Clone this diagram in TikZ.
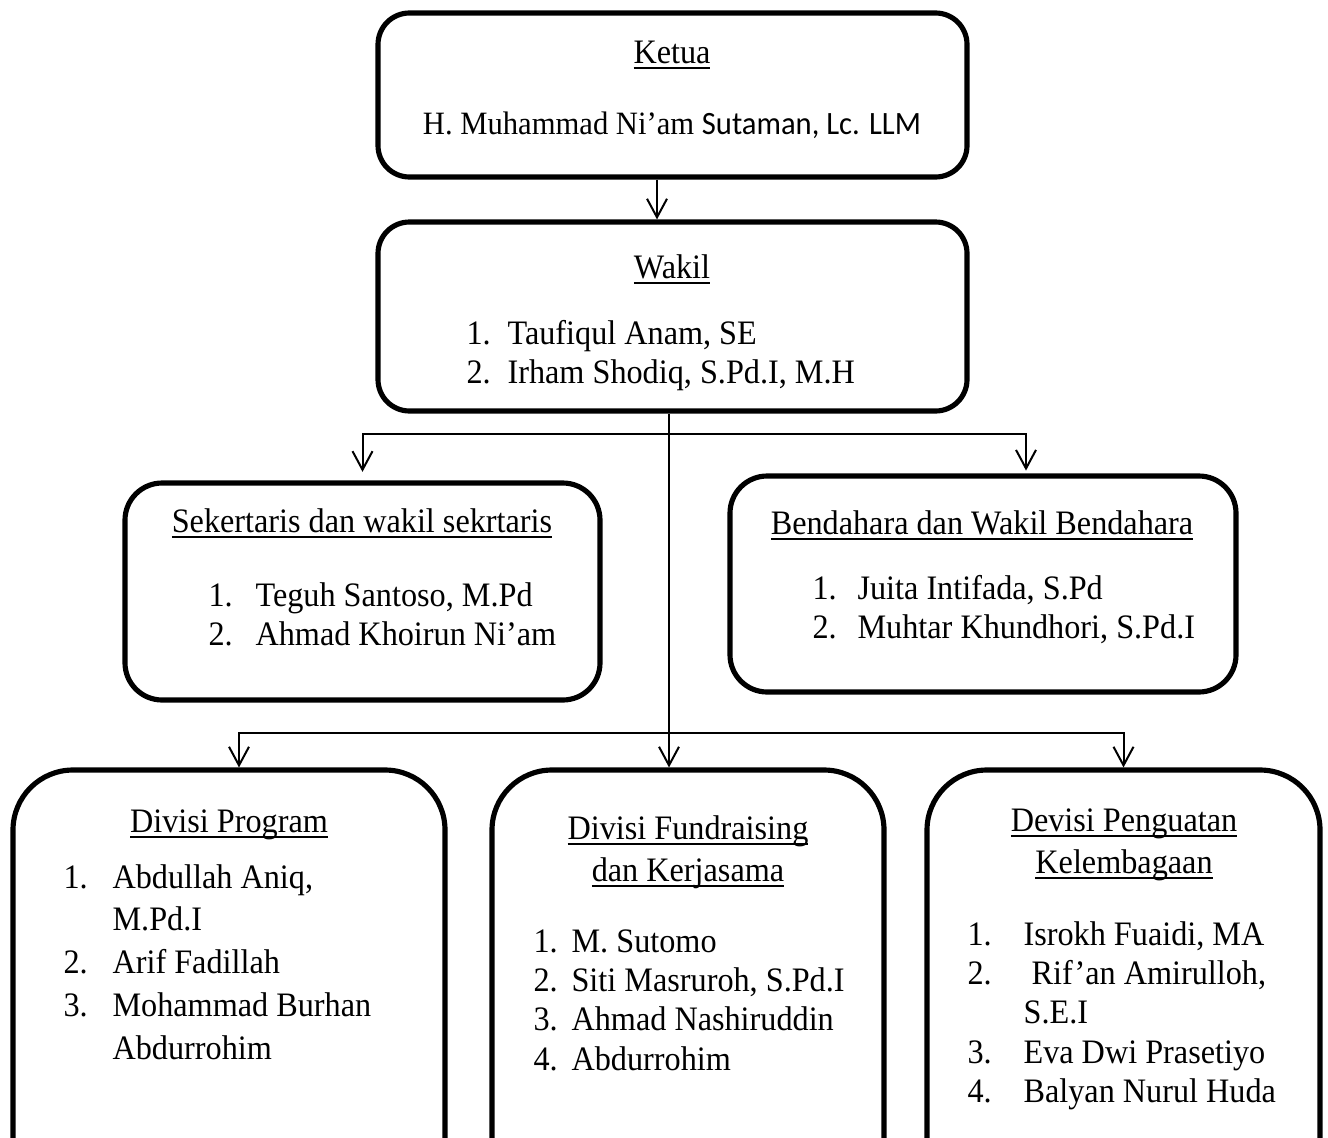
\documentclass[tikz,border=0pt]{standalone}
\usepackage{fontspec}
\setmainfont{Liberation Serif}[FakeStretch=0.94]
\newfontfamily\calibri{Carlito}[FakeStretch=0.94]
\usetikzlibrary{arrows.meta}

\newcommand{\pxl}{0.35pt}
\newcommand{\pxw}[1]{\dimexpr\pxl*#1\relax}
\newcommand{\ulin}[1]{\setbox0\hbox{#1}\rlap{\rule[-2pt]{\wd0}{0.7pt}}\box0}

\tikzstyle{orgbox} = [draw=black, line width=1.8pt, inner sep=0pt]
\tikzstyle{head} = [anchor=base, inner sep=0pt, font=\fontsize{12}{14.6}\selectfont]
\tikzstyle{members} = [anchor=base west, inner sep=0pt, font=\fontsize{12}{13.8}\selectfont]
\tikzstyle{link} = [line width=0.7pt, black, -{Straight Barb[length=6.5pt, width=7pt]}]

% box given by its corners (in pixels) and corner radius
\newcommand{\orgnode}[6]{%
  \node (#1) [orgbox, rounded corners=#6, minimum width={(#4-#2)*\pxl}, minimum height={(#5-#3)*\pxl}]
    at ({(#2+#4)/2}, {(#3+#5)/2}) {};}

\begin{document}
\begin{tikzpicture}[x=\pxl, y=-\pxl]

    \clip (0,0) rectangle (1328,1137);

    \orgnode{ketua}{378}{13}{967}{177}{11pt}
    \orgnode{wakil}{378}{222}{967}{411}{11pt}
    \orgnode{sek}{125}{483}{600}{700}{13pt}
    \orgnode{bend}{730}{476}{1236}{692}{13pt}
    \orgnode{prog}{13}{770}{445}{1200}{21pt}
    \orgnode{fund}{492}{770}{884}{1200}{21pt}
    \orgnode{dev}{927}{770}{1320}{1200}{21pt}

    \node (hKetua) [head] at (672,63) {\ulin{Ketua}};
    \node (nKetua) [head, font=\fontsize{11.4}{13}\selectfont] at (672,134) {H. Muhammad Ni’am {\calibri Sutaman, Lc. LLM}};

    \node (hWakil) [head] at (672,278) {\ulin{Wakil}};
    \node (lWakil) [members] at (466,344) {\begin{tabular}[t]{@{}p{\pxw{41}}@{}l@{}}
        1. & Taufiqul Anam, SE\\
        2. & Irham Shodiq, S.Pd.I, M.H
    \end{tabular}};

    \node (hSek) [head] at (362,532) {\ulin{Sekertaris dan wakil sekrtaris}};
    \node (lSek) [members] at (208,606) {\begin{tabular}[t]{@{}p{\pxw{47}}@{}l@{}}
        1. & Teguh Santoso, M.Pd\\
        2. & Ahmad Khoirun Ni’am
    \end{tabular}};

    \node (hBend) [head] at (982,534) {\ulin{Bendahara dan Wakil Bendahara}};
    \node (lBend) [members] at (812,599) {\begin{tabular}[t]{@{}p{\pxw{45}}@{}l@{}}
        1. & Juita Intifada, S.Pd\\
        2. & Muhtar Khundhori, S.Pd.I
    \end{tabular}};

    \node (hProg) [head] at (229,832) {\ulin{Divisi Program}};
    \node (lProg) [members, font=\fontsize{12}{15}\selectfont] at (63,888) {\begin{tabular}[t]{@{}p{\pxw{49}}@{}l@{}}
        1. & Abdullah Aniq,\\
           & M.Pd.I\\
        2. & Arif Fadillah\\
        3. & Mohammad Burhan\\
           & Abdurrohim
    \end{tabular}};

    \node (hFund) [head, align=center] at (688,881) {\ulin{Divisi Fundraising}\\ \ulin{dan Kerjasama}};
    \node (lFund) [members] at (533,952) {\begin{tabular}[t]{@{}p{\pxw{38}}@{}l@{}}
        1. & M. Sutomo\\
        2. & Siti Masruroh, S.Pd.I\\
        3. & Ahmad Nashiruddin\\
        4. & Abdurrohim
    \end{tabular}};

    \node (hDev) [head, align=center] at (1124,873) {\ulin{Devisi Penguatan}\\ \ulin{Kelembagaan}};
    \node (lDev) [members] at (967,945) {\begin{tabular}[t]{@{}p{\pxw{56}}@{}l@{}}
        1. & Isrokh Fuaidi, MA\\
        2. & \ Rif’an Amirulloh,\\
           & S.E.I\\
        3. & Eva Dwi Prasetiyo\\
        4. & Balyan Nurul Huda
    \end{tabular}};

    % connectors
    \coordinate (axisK) at (657,0);
    \coordinate (axisB) at (1026,0);
    \coordinate (axisP) at (239,0);
    \coordinate (trunk) at (669,0);
    \coordinate (split1) at (669,434);
    \coordinate (split2) at (669,733);

    \draw [link] (ketua.south -| axisK) -- (wakil.north -| axisK);
    \draw [link] (wakil.south -| trunk) -- (fund.north -| trunk);
    \draw [link, shorten >=3pt] (split1) -| (sek.north);
    \draw [link, shorten >=1pt] (split1) -| (bend.north -| axisB);
    \draw [link] (split2) -| (prog.north -| axisP);
    \draw [link] (split2) -| (dev.north);

\end{tikzpicture}
\end{document}
